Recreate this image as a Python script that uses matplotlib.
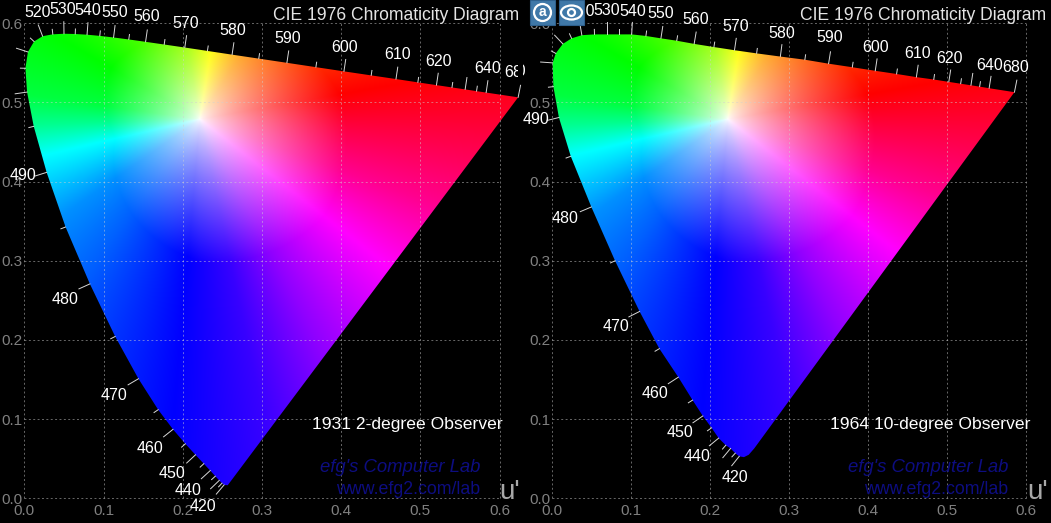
import numpy as np
import matplotlib
matplotlib.use("Agg")
import matplotlib.pyplot as plt
from matplotlib.patches import Polygon, Rectangle, Ellipse
from matplotlib.colors import to_rgb
from matplotlib.transforms import Bbox

# wavelengths along the spectral locus, every tick seen on the picture
wl = [420, 425, 430, 435, 440, 445, 450, 455, 460, 465, 470, 475, 480, 485, 490, 495,
      500, 505, 510, 515, 520, 525, 530, 535, 540, 545, 550, 555, 560, 565, 570, 575,
      580, 585, 590, 595, 600, 605, 610, 615, 620, 625, 630, 635, 640, 680]

# 1931 2-degree observer
u_2deg = [.2522, .2496, .2461, .2411, .2347, .2266, .2161, .2033, .1877, .1690, .1441, .1147,
          .0828, .0521, .0282, .0119, .0035, .0014, .0046, .0123, .0231, .0360, .0501, .0643,
          .0792, .0953, .1127, .1319, .1531, .1766, .2026, .2312, .2623, .2960, .3315, .3681,
          .4035, .4379, .4692, .4968, .5203, .5399, .5565, .5709, .5830, .6234]
v_2deg = [.0169, .0191, .0226, .0279, .0350, .0437, .0549, .0688, .0871, .1119, .1510, .2044,
          .2708, .3427, .4117, .4698, .5131, .5432, .5638, .5770, .5837, .5861, .5868, .5865,
          .5856, .5841, .5821, .5796, .5766, .5732, .5694, .5651, .5604, .5554, .5501, .5446,
          .5393, .5342, .5296, .5254, .5219, .5190, .5165, .5143, .5125, .5065]
tail_u_2deg = [.2568]
tail_v_2deg = [.0165]

# 1964 10-degree observer
u_10deg = [.237, .232, .226, .220, .211, .202, .191, .178, .160, .136, .111, .080,
           .050, .024, .009, .002, .001, .005, .014, .025, .038, .054, .070, .085,
           .101, .119, .138, .158, .180, .205, .231, .259, .289, .320, .350, .380,
           .409, .436, .461, .483, .502, .517, .530, .541, .553, .585]
v_10deg = [.053, .057, .063, .067, .076, .089, .104, .124, .153, .189, .236, .300,
           .368, .432, .481, .520, .550, .562, .574, .581, .585, .586, .586, .586,
           .586, .584, .581, .578, .574, .570, .566, .562, .558, .554, .549, .5445,
           .540, .536, .532, .529, .526, .5237, .5217, .520, .518, .513]
tail_u_10deg = [.243, .249, .256]
tail_v_10deg = [.052, .055, .063]

ticks = [0.0, 0.1, 0.2, 0.3, 0.4, 0.5, 0.6]

# colours seen around the white point: angle in degrees, colour there
hue_angle = [10, 30, 58, 81, 100, 120, 150, 172, 182, 193, 215, 234, 255, 265, 282, 298, 322, 340, 357, 370]
hue_color = ['#ff0000', '#ff4000', '#ff9900', '#ffff00', '#a0ff00', '#60ff00', '#00ff00', '#00ff40',
             '#00ff90', '#00ffff', '#0090ff', '#0060ff', '#0020ff', '#0000ff', '#3800ff', '#9000ff',
             '#ff00ff', '#ff0090', '#ff0040', '#ff0000']
# distance from the white point at which that colour is fully saturated
fade_angle = [10, 81, 150, 193, 270, 322, 370]
fade_dist = [.18, .10, .13, .11, .18, .20, .18]
white_u, white_v = .222, .479

# label offsets from the locus, in pixels
offs_2deg = {420: (-21, -22), 440: (-22, -20), 450: (-23, -19), 460: (-23, -19), 470: (-24, -17),
             480: (-25, -16), 490: (-24, -3), 520: (-5, 24), 530: (-1, 24), 540: (1, 24),
             550: (1, 25), 560: (1, 25), 570: (1, 24), 580: (1, 24), 590: (1, 24), 600: (1, 24),
             610: (2, 25), 620: (2, 24), 640: (1, 24), 680: (-1, 25)}
offs_10deg = {420: (-4, -21), 440: (-22, -18), 450: (-23, -17), 460: (-23, -16), 470: (-24, -15),
              480: (-26, -12), 490: (-23, -2), 500: (-40, -9), 520: (0, 24), 530: (0, 24), 540: (1, 23),
              550: (0, 25), 560: (2, 24), 570: (1, 24), 580: (1, 23), 590: (1, 26), 600: (0, 23),
              610: (1, 24), 620: (1, 23), 640: (0, 23), 680: (1, 25)}

W, H = 1051, 523
PLAIN = ['Liberation Sans']
LABEL_SIZE = 11.5


def chroma_image(uu, vv):
    du = uu - white_u
    dv = vv - white_v
    ang = np.degrees(np.arctan2(dv, du)) % 360
    ang = np.where(ang < 10, ang + 360, ang)
    rgb_table = np.array([to_rgb(c) for c in hue_color])
    hue = np.stack([np.interp(ang, hue_angle, rgb_table[:, k]) for k in range(3)], axis=-1)
    sat = np.clip(np.hypot(du, dv) / np.interp(ang, fade_angle, fade_dist), 0, 1) ** 0.7
    return 1 - sat[..., None] * (1 - hue)


def panel(left, right, clip_x, title_x, u, v, tail_u, tail_v, offs, observer, obs_x, lab_x, ux):
    ax = fig.add_axes([left / W, 1 - 498.3 / H, (right - left) / W, 475 / H])
    ax.set_facecolor('black')

    grid_u, grid_v = np.meshgrid(np.linspace(-.02, .65, 500), np.linspace(0, .6, 450))
    im = ax.imshow(chroma_image(grid_u, grid_v), origin='lower', extent=(-.02, .65, 0, .6),
                   aspect='auto', interpolation='bilinear', zorder=1)
    u = np.array(u)
    v = np.array(v)
    outline = np.column_stack([np.r_[u, tail_u[::-1]], np.r_[v, tail_v[::-1]]])
    im.set_clip_box(fig.bbox)
    im.set_clip_path(Polygon(outline, closed=True, transform=ax.transData))
    ax.set_xlim(0, .6)
    ax.set_ylim(0, .6)

    ax.set_xticks(ticks)
    ax.set_yticks(ticks)
    ax.set_xticklabels([f'{t:.1f}' for t in ticks], family=PLAIN, fontsize=11, color='#808080')
    ax.set_yticklabels([f'{t:.1f}' for t in ticks], family=PLAIN, fontsize=11, color='#808080')
    ax.tick_params(length=0, pad=1)
    ax.tick_params(axis='x', pad=4)
    ax.grid(True, color='#d0d0d0', lw=0.7, ls=(0, (2, 2.5)), alpha=0.5, zorder=3)
    ax.set_axisbelow(False)
    for s in ax.spines.values():
        s.set_visible(False)
    for line in ax.get_xgridlines() + ax.get_ygridlines():
        line.set_clip_on(False)

    # ticks on the locus, normal to it
    du = np.gradient(u)
    dv = np.gradient(v)
    n = np.hypot(du, dv)
    for i, w in enumerate(wl):
        size = (12 if w % 10 == 0 else 5) / 791
        if w == 680:
            nx, ny = 0.2, 1.0
        else:
            nx, ny = -dv[i] / n[i], du[i] / n[i]
        ax.plot([u[i], u[i] + nx * size], [v[i], v[i] + ny * size], color='#d8d8d8', lw=0.7,
                clip_on=False, zorder=4)

    panel_box = Bbox([[clip_x[0], 0], [clip_x[1], H]])
    for w, (dx, dy) in offs.items():
        i = wl.index(w)
        t = ax.annotate(str(w), (u[i], v[i]), xytext=(dx, dy), textcoords='offset pixels',
                        ha='center', va='center', color='white', fontsize=LABEL_SIZE, family=PLAIN,
                        annotation_clip=False, zorder=5)
        t.set_clip_on(True)
        t.set_clip_box(panel_box)

    def label(x, y, s, **kw):
        fig.text(x / W, 1 - y / H, s, va='center', ha='right', family=PLAIN, **kw)

    label(title_x, 15.5, 'CIE 1976 Chromaticity Diagram', color='#e4e4e4', fontsize=12.65)
    label(obs_x, 425, observer, color='white', fontsize=12.6)
    label(lab_x, 468, "efg's Computer Lab", color='#0d0d80', fontsize=13.3, style='italic')
    label(lab_x, 490, 'www.efg2.com/lab', color='#0d0d80', fontsize=12.8)
    label(ux, 492, "u'", color='#a8a8a8', fontsize=20)


fig = plt.figure(figsize=(W / 100, H / 100), dpi=100, facecolor='black')

panel(24.3, 499.6, (0, 518), 519, u_2deg, v_2deg, tail_u_2deg, tail_v_2deg, offs_2deg,
      '1931 2-degree Observer', 503, 480, 520)
panel(551.8, 1026.3, (523, 1051), 1046, u_10deg, v_10deg, tail_u_10deg, tail_v_10deg, offs_10deg,
      '1964 10-degree Observer', 1030, 1008, 1048)


def px_x(x):
    return x / W


def px_y(y):
    return 1 - y / H


# the two badges on top of the right panel
for x0 in (530, 559):
    fig.add_artist(Rectangle((px_x(x0), px_y(25)), 25 / W, 25 / H, transform=fig.transFigure,
                             facecolor='#3f78a8', edgecolor='#2d5f8c', lw=0.8, zorder=10))
fig.text(px_x(542.5), px_y(12.5), 'a', ha='center', va='center', color='white', fontsize=10,
         weight='bold', family=PLAIN, zorder=12)
fig.add_artist(Ellipse((px_x(542.5), px_y(12.5)), 17 / W, 17 / H, transform=fig.transFigure,
                       facecolor='none', edgecolor='white', lw=1.6, zorder=11))
fig.add_artist(Ellipse((px_x(571.5), px_y(12.5)), 21 / W, 14 / H, transform=fig.transFigure,
                       facecolor='none', edgecolor='white', lw=1.6, zorder=11))
fig.add_artist(Ellipse((px_x(571.5), px_y(12.5)), 7 / W, 7 / H, transform=fig.transFigure,
                       facecolor='none', edgecolor='white', lw=1.6, zorder=11))

fig.savefig('out.png', dpi=100, facecolor='black')
